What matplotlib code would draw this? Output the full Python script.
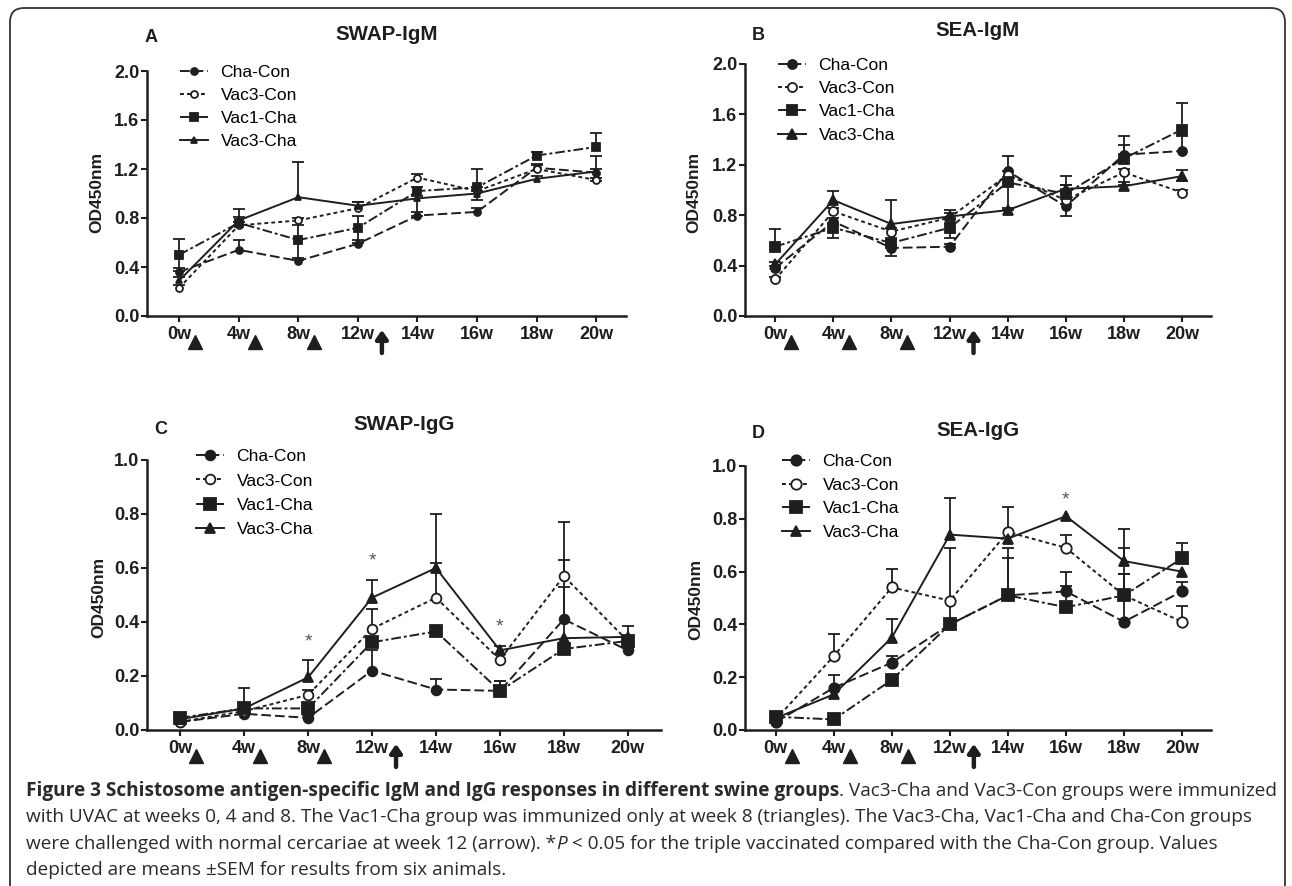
import numpy as np
import matplotlib
matplotlib.use("Agg")
import matplotlib.pyplot as plt
import matplotlib.transforms as mtransforms
from matplotlib.patches import FancyBboxPatch

# groups and time points
weeks = ["0w", "4w", "8w", "12w", "14w", "16w", "18w", "20w"]
groups = ["Cha-Con", "Vac3-Con", "Vac1-Cha", "Vac3-Cha"]

# A: SWAP-IgM  (rows follow groups)
swap_igm_mean = [[0.36, 0.54, 0.45, 0.59, 0.82, 0.85, 1.21, 1.17],
                 [0.23, 0.74, 0.78, 0.88, 1.13, 1.02, 1.20, 1.11],
                 [0.50, 0.76, 0.62, 0.72, 1.02, 1.05, 1.31, 1.38],
                 [0.29, 0.78, 0.97, 0.90, 0.96, 1.00, 1.12, 1.18]]
swap_igm_up = [[0.03, 0.08, 0.02, 0.03, 0.03, 0.03, 0.03, 0.03],
               [0.02, 0.03, 0.02, 0.05, 0.03, 0.03, 0.03, 0.02],
               [0.13, 0.05, 0.12, 0.10, 0.03, 0.15, 0.03, 0.11],
               [0.03, 0.09, 0.29, 0.03, 0.02, 0.02, 0.02, 0.13]]
swap_igm_dn = [[0, 0, 0, 0, 0, 0, 0, 0],
               [0, 0, 0, 0, 0, 0, 0, 0],
               [0.13, 0, 0.16, 0.12, 0, 0.10, 0, 0],
               [0, 0, 0, 0, 0.14, 0, 0, 0.08]]

# B: SEA-IgM
sea_igm_mean = [[0.38, 0.75, 0.54, 0.55, 1.15, 0.87, 1.28, 1.31],
                [0.29, 0.83, 0.67, 0.78, 1.12, 0.92, 1.14, 0.98],
                [0.55, 0.70, 0.58, 0.70, 1.06, 0.97, 1.25, 1.48],
                [0.41, 0.92, 0.73, 0.79, 0.84, 1.01, 1.03, 1.11]]
sea_igm_up = [[0.02, 0.03, 0.02, 0.02, 0.12, 0.02, 0.08, 0.12],
              [0.02, 0.03, 0.03, 0.06, 0.03, 0.12, 0.03, 0.02],
              [0.14, 0.03, 0.03, 0.03, 0.03, 0.14, 0.18, 0.21],
              [0.02, 0.07, 0.19, 0.03, 0.02, 0.03, 0.03, 0.05]]
sea_igm_dn = [[0, 0, 0.06, 0, 0, 0.08, 0, 0],
              [0, 0, 0, 0, 0, 0, 0.10, 0],
              [0, 0.08, 0, 0.08, 0.22, 0, 0, 0],
              [0, 0, 0, 0, 0, 0, 0, 0.04]]

# C: SWAP-IgG
swap_igg_mean = [[0.03, 0.06, 0.045, 0.22, 0.15, 0.145, 0.41, 0.295],
                 [0.03, 0.07, 0.13, 0.375, 0.49, 0.26, 0.57, 0.33],
                 [0.045, 0.08, 0.08, 0.325, 0.365, 0.145, 0.30, 0.33],
                 [0.04, 0.08, 0.195, 0.49, 0.60, 0.295, 0.34, 0.345]]
swap_igg_up = [[0.01, 0.01, 0.01, 0.075, 0.04, 0.035, 0.22, 0.01],
               [0.01, 0.01, 0.02, 0.075, 0.13, 0.02, 0.20, 0.02],
               [0.01, 0.01, 0.02, 0.02, 0.02, 0.035, 0.02, 0.02],
               [0.01, 0.075, 0.065, 0.065, 0.20, 0.015, 0.19, 0.04]]
swap_igg_dn = [[0] * 8, [0] * 8, [0] * 8, [0] * 8]

# D: SEA-IgG
sea_igg_mean = [[0.03, 0.16, 0.255, 0.40, 0.51, 0.525, 0.41, 0.525],
                [0.04, 0.28, 0.54, 0.49, 0.75, 0.69, 0.51, 0.41],
                [0.05, 0.04, 0.19, 0.40, 0.51, 0.465, 0.51, 0.65],
                [0.045, 0.135, 0.35, 0.74, 0.725, 0.81, 0.64, 0.60]]
sea_igg_up = [[0.01, 0.05, 0.025, 0.29, 0.14, 0.075, 0.18, 0.035],
              [0.01, 0.085, 0.07, 0, 0.095, 0.05, 0.08, 0.06],
              [0.01, 0, 0.02, 0, 0.18, 0.08, 0.18, 0.06],
              [0.01, 0, 0.07, 0.14, 0, 0, 0.12, 0]]
sea_igg_dn = [[0] * 8, [0] * 8, [0] * 8, [0] * 8]

# significance stars (week index, height)
swap_igg_stars = [(2, 0.325), (3, 0.625), (5, 0.38)]
sea_igg_stars = [(5, 0.87)]

caption_bold = "Figure 3 Schistosome antigen-specific IgM and IgG responses in different swine groups"
caption_lines = [
    [(caption_bold, "bold", "normal"), (". Vac3-Cha and Vac3-Con groups were immunized", "normal", "normal")],
    [("with UVAC at weeks 0, 4 and 8. The Vac1-Cha group was immunized only at week 8 (triangles). "
      "The Vac3-Cha, Vac1-Cha and Cha-Con groups", "normal", "normal")],
    [("were challenged with normal cercariae at week 12 (arrow). *", "normal", "normal"), ("P", "normal", "italic"),
     (" < 0.05 for the triple vaccinated compared with the Cha-Con group. Values", "normal", "normal")],
    [("depicted are means \u00b1SEM for results from six animals.", "normal", "normal")],
]

plt.rcParams["font.family"] = ["Liberation Sans", "DejaVu Sans"]
W, H = 1292, 886
fig = plt.figure(figsize=(W / 100, H / 100), dpi=100)
ink = "#1e1e1e"
ident = mtransforms.IdentityTransform()

# style per group: marker, filled?, dash pattern
styles = [("o", True, (5, 2)),
          ("o", False, (2, 1.6)),
          ("s", True, (5, 1.5, 1.5, 1.5)),
          ("^", True, None)]

panels = [
    dict(letter="A", title="SWAP-IgM", mean=swap_igm_mean, up=swap_igm_up, dn=swap_igm_dn, stars=[],
         box=(147, 71, 626, 316), xlim=(-0.54, 7.5), ymax=2.0, ystep=0.4,
         title_xy=(387, 34), letter_xy=(151, 38), ylab_xy=(97, 192), leg_xy=(180, 71), leg_sp=0.44, ms=5),
    dict(letter="B", title="SEA-IgM", mean=sea_igm_mean, up=sea_igm_up, dn=sea_igm_dn, stars=[],
         box=(745, 64, 1211, 316), xlim=(-0.52, 7.5), ymax=2.0, ystep=0.4,
         title_xy=(978, 31), letter_xy=(758, 35), ylab_xy=(694, 192), leg_xy=(778, 64), leg_sp=0.45, ms=6.5),
    dict(letter="C", title="SWAP-IgG", mean=swap_igg_mean, up=swap_igg_up, dn=swap_igg_dn, stars=swap_igg_stars,
         box=(147, 460, 661, 730), xlim=(-0.52, 7.52), ymax=1.0, ystep=0.2,
         title_xy=(404, 425), letter_xy=(161, 430), ylab_xy=(99, 597), leg_xy=(196, 455), leg_sp=0.52, ms=7),
    dict(letter="D", title="SEA-IgG", mean=sea_igg_mean, up=sea_igg_up, dn=sea_igg_dn, stars=sea_igg_stars,
         box=(745, 466, 1211, 730), xlim=(-0.53, 7.5), ymax=1.0, ystep=0.2,
         title_xy=(978, 430), letter_xy=(758, 433), ylab_xy=(696, 599), leg_xy=(782, 460), leg_sp=0.47, ms=7.5),
]

x = np.arange(len(weeks))

for p in panels:
    l, t, r, b = p["box"]
    ax = fig.add_axes([l / W, 1 - b / H, (r - l) / W, (b - t) / H])
    handles = []
    for gi, (mk, filled, dash) in enumerate(styles):
        m = np.array(p["mean"][gi])
        up = np.array(p["up"][gi])
        dn = np.array(p["dn"][gi])
        ax.vlines(x, m - dn, m + up, color=ink, lw=1.3, zorder=2)
        sel = up > 0
        ax.plot(x[sel], (m + up)[sel], ls="none", marker="_", ms=8, mew=1.3, color=ink, zorder=2)
        sel = dn > 0
        ax.plot(x[sel], (m - dn)[sel], ls="none", marker="_", ms=8, mew=1.3, color=ink, zorder=2)
        ln, = ax.plot(x, m, color=ink, lw=1.4, marker=mk, ms=p["ms"] + (1 if mk == "s" else 0),
                      mfc=ink if filled else "white", mec=ink, mew=1.3, label=groups[gi], zorder=3)
        if dash:
            ln.set_dashes(dash)
        handles.append(ln)

    for wi, yv in p["stars"]:
        ax.text(wi, yv, "*", ha="center", va="center", fontsize=14, color="#555555")

    ax.set_xlim(*p["xlim"])
    ax.set_ylim(0, p["ymax"])
    yt = np.arange(0, p["ymax"] + 1e-6, p["ystep"])
    ax.set_yticks(yt)
    ax.set_yticklabels([f"{v:.1f}" for v in yt])
    ax.set_xticks(x)
    ax.set_xticklabels(weeks)
    for s in ["top", "right"]:
        ax.spines[s].set_visible(False)
    for s in ["left", "bottom"]:
        ax.spines[s].set_linewidth(1.8)
        ax.spines[s].set_color(ink)
    ax.tick_params(axis="both", labelsize=13, width=1.5, length=4, color=ink, labelcolor=ink)
    ax.tick_params(axis="y", pad=1.5)
    ax.tick_params(axis="x", pad=3.5)
    plt.setp(ax.get_xticklabels() + ax.get_yticklabels(), fontweight="bold")

    # immunisation triangles and challenge arrow under the week labels
    base = mtransforms.blended_transform_factory(ax.transData, ax.transAxes)
    for wi in range(3):
        tr = base + mtransforms.ScaledTranslation(16 / 100, -26 / 100, fig.dpi_scale_trans)
        ax.plot([wi], [0], marker="^", ms=10, color=ink, transform=tr, clip_on=False)
    head = base + mtransforms.ScaledTranslation(24 / 100, -14 / 100, fig.dpi_scale_trans)
    tail = base + mtransforms.ScaledTranslation(24 / 100, -37 / 100, fig.dpi_scale_trans)
    ax.annotate("", xy=(3, 0), xycoords=head, xytext=(3, 0), textcoords=tail,
                arrowprops=dict(arrowstyle="-|>,head_width=0.35,head_length=0.5", lw=3.2, color=ink,
                                shrinkA=0, shrinkB=0), annotation_clip=False)

    lx, ly = p["leg_xy"]
    ax.legend(handles=handles, loc="upper left", bbox_to_anchor=(lx / W, 1 - (ly - 6) / H),
              bbox_transform=fig.transFigure, frameon=False, borderpad=0, borderaxespad=0,
              handlelength=1.6, handletextpad=0.72, labelspacing=p["leg_sp"], numpoints=1,
              prop=dict(size=12.6))

    fig.text(*p["title_xy"], p["title"], transform=ident, fontsize=14.8, fontweight="bold",
             ha="center", va="center", color=ink)
    fig.text(*p["letter_xy"], p["letter"], transform=ident, fontsize=13, fontweight="bold",
             ha="center", va="center", color=ink)
    fig.text(*p["ylab_xy"], "OD450nm", transform=ident, fontsize=12.5, fontweight="bold",
             rotation=90, ha="center", va="center", color=ink)

# pixel coordinates are given from the top edge
for t in fig.texts:
    xx, yy = t.get_position()
    t.set_position((xx, H - yy))

# caption, fitted to the measured width of the first line
renderer = fig.canvas.get_renderer()
cap_family = ["Open Sans", "DejaVu Sans"]


def draw_line(x0, ybase, runs, size):
    out = []
    xc = x0
    for s, wgt, sty in runs:
        tt = fig.text(xc, H - ybase, s, transform=ident, fontsize=size, family=cap_family,
                      fontweight=wgt, fontstyle=sty, ha="left", va="baseline", color="#2a2a2a")
        xc = tt.get_window_extent(renderer).x1
        out.append(tt)
    return out, xc


probe, xend = draw_line(26, 796, caption_lines[0], 12)
size = 12 * (1277 - 26) / (xend - 26)
for tt in probe:
    tt.remove()
for runs, yb in zip(caption_lines, [796, 822, 849, 875]):
    draw_line(26, yb, runs, size)

fig.add_artist(FancyBboxPatch((10, -30), 1275, H - 8 + 30, boxstyle="round,pad=0,rounding_size=14",
                              transform=ident, fill=False, lw=1.3, ec="#333333"))

fig.savefig("out.png", dpi=100)
